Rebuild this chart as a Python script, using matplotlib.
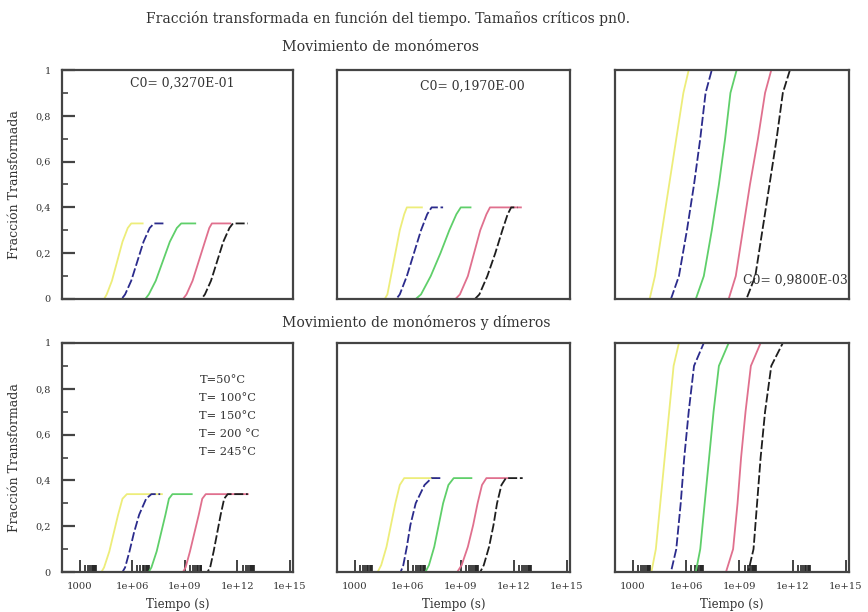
import numpy as np
import matplotlib
matplotlib.use("Agg")
import matplotlib.pyplot as plt
import matplotlib.ticker as ticker

plt.rcParams['font.family'] = ['DejaVu Serif']

# curvas: log10 del tiempo (s) para cada temperatura, y fraccion transformada comun por panel
temperaturas = ['T=50°C', 'T= 100°C', 'T= 150°C', 'T= 200 °C', 'T= 245°C']
colores = ['#eded7a', '#2b2b8c', '#5fcf6a', '#e0708e', '#1e1e1e']

# Movimiento de monomeros
frac_a1 = [0, 0, 0.02, 0.08, 0.165, 0.25, 0.31, 0.33, 0.33]
logt_a1 = [[4.2, 4.4, 4.55, 4.85, 5.15, 5.45, 5.75, 5.95, 6.6],
           [4.8, 5.4, 5.6, 5.95, 6.3, 6.65, 7.0, 7.25, 7.9],
           [6.2, 6.75, 6.95, 7.35, 7.75, 8.15, 8.55, 8.8, 9.6],
           [8.35, 8.9, 9.1, 9.45, 9.8, 10.15, 10.4, 10.55, 11.6],
           [9.45, 9.95, 10.15, 10.5, 10.85, 11.2, 11.55, 11.75, 12.6]]

frac_a2 = [0, 0, 0.02, 0.1, 0.2, 0.3, 0.37, 0.40, 0.40]
logt_a2 = [[4.5, 4.7, 4.85, 5.05, 5.3, 5.55, 5.8, 5.95, 6.8],
           [4.8, 5.35, 5.55, 5.95, 6.35, 6.75, 7.1, 7.35, 8.0],
           [6.0, 6.45, 6.75, 7.3, 7.85, 8.35, 8.75, 9.0, 9.55],
           [8.1, 8.7, 8.95, 9.4, 9.75, 10.1, 10.45, 10.65, 12.4],
           [9.1, 9.8, 10.05, 10.5, 10.95, 11.35, 11.65, 11.85, 12.2]]

frac_a3 = [0, 0, 0.1, 0.3, 0.5, 0.7, 0.9, 1.0]
logt_a3 = [[3.8, 3.95, 4.25, 4.65, 5.05, 5.45, 5.85, 6.15],
           [4.5, 5.15, 5.6, 6.05, 6.45, 6.8, 7.1, 7.45],
           [6.05, 6.55, 7.0, 7.45, 7.85, 8.2, 8.5, 8.85],
           [8.0, 8.4, 8.8, 9.2, 9.6, 10.05, 10.45, 10.8],
           [8.85, 9.4, 9.9, 10.3, 10.7, 11.1, 11.45, 11.85]]

# Movimiento de monomeros y dimeros
frac_b1 = [0, 0, 0.02, 0.09, 0.17, 0.25, 0.32, 0.34, 0.34]
logt_b1 = [[4.1, 4.25, 4.4, 4.7, 4.95, 5.2, 5.45, 5.7, 7.7],
           [5.3, 5.45, 5.6, 5.85, 6.1, 6.4, 6.8, 7.1, 7.6],
           [6.6, 6.95, 7.1, 7.4, 7.65, 7.9, 8.1, 8.3, 9.4],
           [8.6, 8.9, 9.05, 9.3, 9.55, 9.8, 10.0, 10.2, 12.6],
           [9.95, 10.3, 10.45, 10.65, 10.85, 11.05, 11.25, 11.45, 12.6]]

frac_b2 = [0, 0, 0.03, 0.11, 0.205, 0.3, 0.38, 0.41, 0.41]
logt_b2 = [[4.1, 4.3, 4.5, 4.8, 5.05, 5.3, 5.55, 5.8, 7.6],
           [5.3, 5.6, 5.75, 5.95, 6.15, 6.45, 6.95, 7.35, 7.9],
           [6.7, 7.0, 7.2, 7.5, 7.75, 8.0, 8.3, 8.6, 9.6],
           [8.5, 8.8, 9.05, 9.4, 9.7, 9.95, 10.2, 10.45, 11.65],
           [9.8, 10.1, 10.3, 10.6, 10.85, 11.05, 11.3, 11.55, 12.5]]

frac_b3 = [0, 0, 0.1, 0.3, 0.5, 0.7, 0.9, 1.0]
logt_b3 = [[3.9, 4.05, 4.3, 4.55, 4.8, 5.05, 5.3, 5.6],
           [4.65, 5.15, 5.45, 5.7, 5.9, 6.15, 6.45, 7.0],
           [6.1, 6.55, 6.8, 7.05, 7.3, 7.55, 7.85, 8.4],
           [7.9, 8.25, 8.65, 8.9, 9.1, 9.35, 9.65, 10.2],
           [9.2, 9.5, 9.8, 10.0, 10.2, 10.45, 10.8, 11.45]]

xticks_pos = [1e3, 1e6, 1e9, 1e12, 1e15]
xticks_lab = ['1000', '1e+06', '1e+09', '1e+12', '1e+15']
yticks_pos = [0, 0.2, 0.4, 0.6, 0.8, 1]
yticks_lab = ['0', '0,2', '0,4', '0,6', '0,8', '1']
c0_textos = ['C0= 0,3270E-01', 'C0= 0,1970E-00', 'C0= 0,9800E-03']

W, H = 868, 612
fig = plt.figure(figsize=(W / 100, H / 100), dpi=100)

lefts = [62, 337, 615]
widths = [231, 233, 234]
bottoms = [299, 572]   # pixel del borde inferior (fila superior, inferior)
alto = 229
gris = '#333333'

paneles = [[(frac_a1, logt_a1), (frac_a2, logt_a2), (frac_a3, logt_a3)],
           [(frac_b1, logt_b1), (frac_b2, logt_b2), (frac_b3, logt_b3)]]

estilos = ['-', (0, (5, 1.5)), '-', '-', (0, (5, 1.5))]

ejes = []
for fila in range(2):
    for col in range(3):
        ax = fig.add_axes([lefts[col] / W, 1 - bottoms[fila] / H,
                           widths[col] / W, alto / H])
        frac, logt = paneles[fila][col]
        for k in range(5):
            ax.plot(10 ** np.array(logt[k]), frac, color=colores[k],
                    ls=estilos[k], lw=1.3, clip_on=True)
        ax.set_xscale('log')
        ax.set_xlim(1e2, 1.5e15)
        ax.set_ylim(0, 1)
        for s in ax.spines.values():
            s.set_color('#444444')
            s.set_linewidth(1.6)
        # ticks
        if col == 0:
            ax.set_yticks(yticks_pos)
            ax.set_yticklabels(yticks_lab, fontsize=7, color=gris)
            ax.yaxis.set_minor_locator(ticker.MultipleLocator(0.1))
            ax.tick_params(axis='y', which='major', direction='in', length=9,
                           width=1.6, color='#444444', pad=8)
            ax.tick_params(axis='y', which='minor', direction='in', length=4,
                           width=1.2, color='#444444')
            ax.set_ylabel('Fracción Transformada', fontsize=9, labelpad=10,
                          color=gris)
        else:
            ax.set_yticks([])
            ax.yaxis.set_minor_locator(ticker.NullLocator())
        if fila == 1:
            ax.set_xticks(xticks_pos)
            ax.set_xticklabels(xticks_lab, fontsize=7.2, color=gris)
            menores = [m * p for p in xticks_pos[:-1] for m in range(2, 10)]
            ax.xaxis.set_minor_locator(ticker.FixedLocator(menores))
            ax.xaxis.set_minor_formatter(ticker.NullFormatter())
            ax.tick_params(axis='x', which='major', direction='in', length=9,
                           width=1.2, color='#222222', pad=7)
            ax.tick_params(axis='x', which='minor', direction='in', length=5,
                           width=1.2, color='#222222')
            ax.set_xlabel('Tiempo (s)', fontsize=8.5, labelpad=5, color=gris)
        else:
            ax.set_xticks([])
            ax.xaxis.set_minor_locator(ticker.NullLocator())
        ejes.append(ax)

# textos
fig.text(388 / W, 1 - 19 / H,
         'Fracción transformada en función del tiempo. Tamaños críticos pn0.',
         ha='center', va='center', fontsize=10, color=gris)
fig.text(380 / W, 1 - 47 / H, 'Movimiento de monómeros',
         ha='center', va='center', fontsize=10.3, color=gris)
fig.text(416 / W, 1 - 322 / H, 'Movimiento de monómeros y dímeros',
         ha='center', va='center', fontsize=10.1, color=gris)

ejes[0].text(0.52, 0.94, c0_textos[0], transform=ejes[0].transAxes,
             ha='center', va='center', fontsize=8.9, color=gris)
ejes[1].text(0.58, 0.93, c0_textos[1], transform=ejes[1].transAxes,
             ha='center', va='center', fontsize=8.9, color=gris)
ejes[2].text(0.995, 0.08, c0_textos[2], transform=ejes[2].transAxes,
             ha='right', va='center', fontsize=8.9, color=gris)

for i, t in enumerate(temperaturas):
    ejes[3].text(0.595, 0.84 - i * 0.079, t, transform=ejes[3].transAxes,
                 ha='left', va='center', fontsize=8.2, color=gris)

fig.savefig('out.png', dpi=100)
